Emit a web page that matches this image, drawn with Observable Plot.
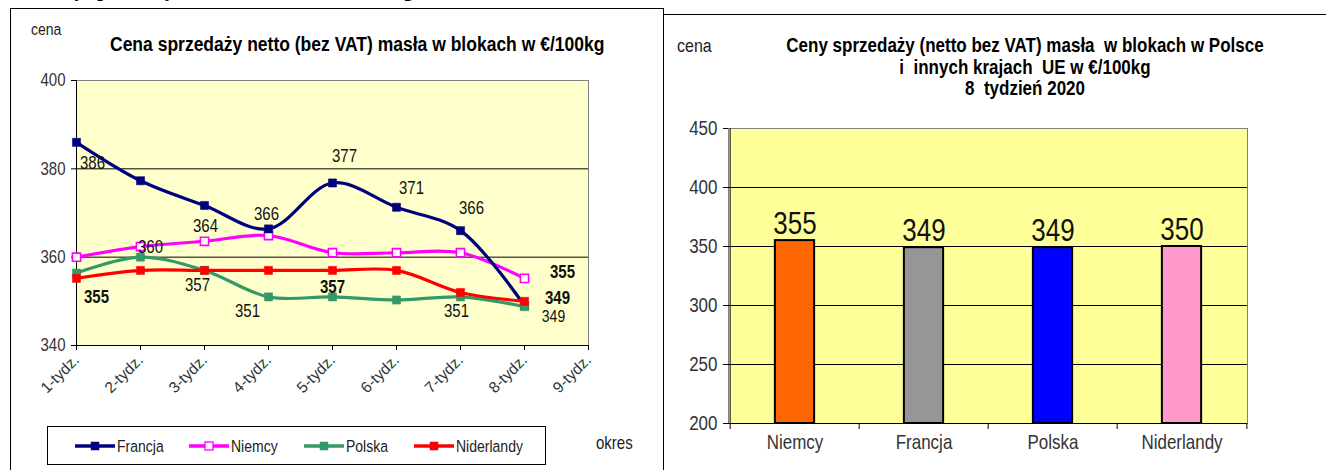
<!DOCTYPE html>
<html><head><meta charset="utf-8">
<script src="https://cdn.jsdelivr.net/npm/d3@7"></script>
<script src="https://cdn.jsdelivr.net/npm/@observablehq/plot@0.6"></script>
<style>
body{margin:0;background:#fff;font-family:"Liberation Sans",Arial,sans-serif;}
#page{position:relative;width:1326px;height:470px;overflow:hidden;background:#fff;}
.abs{position:absolute;white-space:nowrap;}
.lg{position:absolute;top:0;height:37px;display:flex;align-items:center;font-size:14px;color:#222;}
.sy{display:inline-block;transform:scaleY(1.18);}
</style></head><body><div id="page"></div>
<script>
// ---- data: left chart (weekly prices, €/100kg) ----
const weeks = ["1-tydz.","2-tydz.","3-tydz.","4-tydz.","5-tydz.","6-tydz.","7-tydz.","8-tydz.","9-tydz."];
const seriesNames = ["Francja","Niemcy","Polska","Niderlandy"];
const seriesColors = ["#000080","#ff00ff","#339966","#ff0000"];
const francja    = [386, 377.3, 371.7, 366.4, 376.8, 371.3, 366, 349];
const niemcy     = [360, 362.4, 363.6, 364.9, 361, 361, 361, 355.2];
const polska     = [356.4, 360, 357, 351, 351, 350.3, 351, 348.8];
const niderlandy = [355.2, 357, 357, 357, 357, 357, 352, 350];
// ---- data: right chart (week 8, 2020) ----
const countries = ["Niemcy","Francja","Polska","Niderlandy"];
const week8Values = [355, 349, 349, 350];
const barColors = ["#ff6600","#969696","#0000ff","#ff99cc"];

const FONT = '"Liberation Sans", Arial, sans-serif';
const K = 1.18; // vertical stretch of the source's lettering
const page = document.getElementById("page");
function el(html, css) { const d = document.createElement("div"); d.className = "abs"; d.innerHTML = html; Object.assign(d.style, css); page.appendChild(d); return d; }
function stretchTexts(svg, k) {
  try {
    svg.querySelectorAll("text").forEach(t => {
      const tr = t.getAttribute("transform") || "";
      if (tr.includes("rotate")) return;
      const bb = t.getBBox();
      const m = t.parentNode.getCTM().inverse().multiply(t.getCTM());
      const cy = m.d * (bb.y + bb.height / 2) + m.f;
      const g = document.createElementNS("http://www.w3.org/2000/svg", "g");
      g.setAttribute("transform", `matrix(1,0,0,${k},0,${cy * (1 - k)})`);
      t.parentNode.insertBefore(g, t);
      g.appendChild(t);
    });
  } catch (e) { console.error(e); }
}

// cropped heading at top of the page
el("Ceny sprzedaży masła w blokach w €/100kg", {left:"40px", top:"-23px", lineHeight:"24px", fontFamily:'"Liberation Serif","Times New Roman",serif', fontWeight:"bold", fontSize:"20px", color:"#000"});

// frames
el("", {left:"10px", top:"8px", width:"652px", height:"470px", borderLeft:"1.5px solid #000", borderTop:"1.5px solid #000", borderRight:"1.5px solid #000"});
el("", {left:"663px", top:"14px", width:"700px", height:"470px", borderLeft:"1.5px solid #000", borderTop:"1.5px solid #000", background:"#fff"});

// ---------------- LEFT CHART ----------------
const valuesBySeries = {Francja: francja, Niemcy: niemcy, Polska: polska, Niderlandy: niderlandy};
const colorOf = Object.fromEntries(seriesNames.map((s, i) => [s, seriesColors[i]]));
const lineData = seriesNames.flatMap(s => valuesBySeries[s].map((v, j) => ({series: s, week: weeks[j], value: v})));
const drawOrder = ["Niemcy","Francja","Polska","Niderlandy"];

function seriesMarks(s) {
  const d = lineData.filter(r => r.series === s);
  return [
    Plot.line(d, {x: "week", y: "value", stroke: colorOf[s], strokeWidth: 3.2, curve: "catmull-rom"}),
    Plot.dot(d, {x: "week", y: "value", symbol: "square", r: 4.6, fill: s === "Niemcy" ? "#fff" : colorOf[s], stroke: colorOf[s], strokeWidth: s === "Niemcy" ? 1.6 : 0.5})
  ];
}
function lbl(s, wk, dx, dy, bold, size) {
  const d = lineData.filter(r => r.series === s && r.week === weeks[wk]);
  return Plot.text(d, {x: "week", y: "value", text: r => String(Math.round(r.value)), dx, dy, fontSize: size || 15, fontWeight: bold ? "bold" : "normal", fill: "#111"});
}

const left = Plot.plot({
  width: 662, height: 470,
  marginLeft: 76, marginRight: 74, marginTop: 80, marginBottom: 125,
  style: {fontFamily: FONT, background: "transparent", overflow: "visible"},
  x: {type: "point", domain: weeks, padding: 0},
  y: {domain: [340, 400]},
  marks: [
    Plot.frame({fill: "#ffffcc", stroke: "#808080"}),
    Plot.ruleY([360, 380], {stroke: "#000", strokeWidth: 1}),
    Plot.ruleX([weeks[0]], {y1: 340, y2: 400, stroke: "#000"}),
    Plot.ruleY([340], {stroke: "#000"}),
    Plot.axisY({ticks: [340, 360, 380, 400], tickSize: 5, tickPadding: 6, fontSize: 15, fill: "#333", label: null}),
    Plot.axisX({tickSize: 5, tickRotate: -45, tickPadding: 7, fontSize: 15.5, fill: "#333", label: null}),
    ...drawOrder.flatMap(seriesMarks),
    lbl("Francja", 0, 16, 21),
    lbl("Polska", 1, 10, -10),
    lbl("Niemcy", 2, 1, -15),
    lbl("Francja", 3, -2, -15),
    lbl("Francja", 4, 12, -27),
    lbl("Francja", 5, 15, -19),
    lbl("Francja", 6, 11, -22),
    lbl("Niemcy", 7, 38, -6, true),
    lbl("Niderlandy", 0, 20, 19, true),
    lbl("Polska", 2, -7, 15),
    lbl("Polska", 3, -21, 14),
    lbl("Niderlandy", 4, 0, 17, true),
    lbl("Polska", 6, -4, 14),
    lbl("Francja", 7, 33, -8, true),
    lbl("Polska", 7, 29, 10, false, 14)
  ]
});
left.style.position = "absolute"; left.style.left = "0px"; left.style.top = "0px";
page.appendChild(left);
stretchTexts(left, K);

el('<span class="sy">cena</span>', {left: "31px", top: "21px", fontSize: "14px", color: "#222"});
el('<span class="sy">Cena sprzedaży netto (bez VAT) masła w blokach w €/100kg</span>', {left: "110px", top: "34px", fontSize: "17.5px", fontWeight: "bold"});

// legend
const legend = el("", {left: "47px", top: "426px", width: "497px", height: "37px", border: "1px solid #000", background: "#fff"});
const legendX = [27, 141, 256, 366];
seriesNames.forEach((s, i) => {
  const item = document.createElement("div");
  item.className = "lg";
  item.style.left = legendX[i] + "px";
  const c = colorOf[s];
  const fill = s === "Niemcy" ? "#fff" : c;
  item.innerHTML = `<svg width="40" height="12"><line x1="0" y1="6" x2="40" y2="6" stroke="${c}" stroke-width="3.5"/><rect x="16" y="2" width="8" height="8" fill="${fill}" stroke="${c}" stroke-width="${s === "Niemcy" ? 1.3 : 0.5}"/></svg><span class="sy" style="margin-left:2px">${s}</span>`;
  legend.appendChild(item);
});
el('<span class="sy">okres</span>', {left: "596px", top: "434px", fontSize: "15px", color: "#222"});

// ---------------- RIGHT CHART ----------------
const barData = countries.map((c, i) => ({country: c, value: week8Values[i]}));
const half = (1247 - 728) / 8;
const right = Plot.plot({
  width: 663, height: 470,
  marginLeft: 65, marginRight: 79, marginTop: 128, marginBottom: 47,
  style: {fontFamily: FONT, background: "transparent", overflow: "visible"},
  x: {domain: countries, padding: 0},
  y: {domain: [200, 450]},
  color: {domain: countries, range: barColors},
  marks: [
    Plot.frame({fill: "#ffff99", stroke: "#808080"}),
    Plot.ruleY([250, 300, 350, 400], {stroke: "#000", strokeWidth: 1}),
    Plot.ruleX([countries[0]], {dx: -half, y1: 200, y2: 450, stroke: "#000"}),
    Plot.ruleY([200], {stroke: "#000"}),
    Plot.axisY({ticks: [200, 250, 300, 350, 400, 450], tickSize: 5, tickPadding: 6, fontSize: 17, fill: "#333", label: null}),
    Plot.axisX({tickSize: 6, text: null, dx: -half, label: null}),
    Plot.axisX([countries[3]], {tickSize: 6, text: null, dx: half, label: null}),
    Plot.axisX({tickSize: 0, tickPadding: 12, fontSize: 17, fill: "#333", label: null}),
    Plot.barY(barData, {x: "country", y1: 200, y2: "value", fill: "country", stroke: "#000", strokeWidth: 2, insetLeft: half - 20, insetRight: half - 20}),
    Plot.text(barData, {x: "country", y: "value", text: d => String(d.value), lineAnchor: "bottom", dy: -8, fontSize: 26, fill: "#111"})
  ]
});
right.style.position = "absolute"; right.style.left = "663px"; right.style.top = "0px";
page.appendChild(right);
stretchTexts(right, K);

el('<span class="sy">cena</span>', {left: "677px", top: "37px", fontSize: "16px", color: "#222"});
const rt = {left: "725px", width: "600px", textAlign: "center", fontSize: "17px", fontWeight: "bold"};
el('<span class="sy">Ceny sprzedaży (netto bez VAT) masła&nbsp; w blokach w Polsce</span>', {...rt, top: "36px"});
el('<span class="sy">i&nbsp; innych krajach&nbsp; UE w €/100kg</span>', {...rt, top: "58px"});
el('<span class="sy">8&nbsp; tydzień 2020</span>', {...rt, top: "79px"});
</script></body></html>
